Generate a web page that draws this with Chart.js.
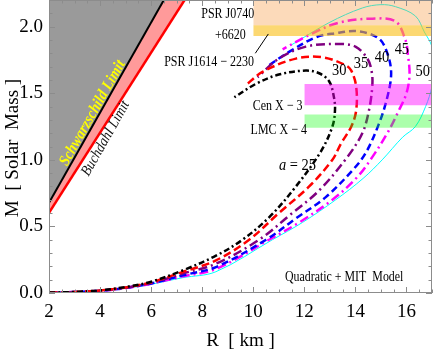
<!DOCTYPE html>
<html>
<head>
<meta charset="utf-8">
<script src="https://cdn.jsdelivr.net/npm/chart.js@4.4.1/dist/chart.umd.min.js"></script>
<style>
  html, body { margin: 0; padding: 0; background: #fff; }
  #wrap { width: 436px; height: 354px; }
</style>
</head>
<body>
<div id="wrap"><canvas id="graficoMR"></canvas></div>
<script>
// axis ticks
const xTicks = [2, 4, 6, 8, 10, 12, 14, 16];
const yTicks = [0.0, 0.5, 1.0, 1.5, 2.0];

// limits (R in km, M in solar masses)
const schwarzR = [2, 7];
const schwarzM = [0.677, 2.37];
const buchdahlR = [2, 8];
const buchdahlM = [0.602, 2.407];

// observed mass bands
const bandNames = ['PSR J0740+6620', 'PSR J1614-2230', 'Cen X-3', 'LMC X-4'];
const bandFrom = [10, 10, 12, 12];
const bandTo = [17, 17, 17, 17];
const bandLow = [2.01, 1.93, 1.41, 1.24];
const bandHigh = [2.2, 2.01, 1.57, 1.34];

// mass-radius curves for a = 25 ... 50
const aValues = [25, 30, 35, 40, 45, 50];
const r25 = [2, 3, 4, 5, 6, 7.24, 8.54, 9.58, 10.63, 11.67, 12.64, 13.1, 13.2, 13.16, 12.97, 12.58, 12.06, 11.0, 10.1, 9.26];
const m25 = [0.003, 0.008, 0.02, 0.045, 0.085, 0.17, 0.28, 0.40, 0.57, 0.80, 1.06, 1.25, 1.37, 1.47, 1.59, 1.65, 1.67, 1.64, 1.57, 1.47];
const r30 = [2, 3, 4, 5, 6, 7.24, 8.54, 9.84, 11.0, 12.19, 13.1, 13.43, 13.84, 14.03, 14.03, 13.84, 13.62, 12.71, 11.67, 10.36, 9.71];
const m30 = [0.003, 0.007, 0.019, 0.042, 0.08, 0.158, 0.245, 0.40, 0.60, 0.80, 1.0, 1.12, 1.25, 1.37, 1.55, 1.67, 1.71, 1.77, 1.76, 1.66, 1.56];
const r35 = [2, 3, 4, 5, 6, 7.24, 8.54, 10.23, 11.4, 12.58, 13.68, 14.27, 14.53, 14.66, 14.64, 14.47, 14.0, 13.36, 12.06, 11.0, 10.17];
const m35 = [0.003, 0.007, 0.018, 0.04, 0.076, 0.146, 0.22, 0.40, 0.58, 0.77, 1.02, 1.2, 1.37, 1.55, 1.66, 1.76, 1.85, 1.87, 1.85, 1.76, 1.62];
const r40 = [2, 3, 4, 5, 6, 7.24, 8.54, 10.5, 11.67, 12.84, 13.88, 14.4, 14.92, 15.25, 15.4, 15.25, 14.92, 14.1, 13.2, 12.45, 11.4, 10.62];
const m40 = [0.003, 0.007, 0.017, 0.038, 0.072, 0.133, 0.195, 0.40, 0.56, 0.72, 0.92, 1.05, 1.27, 1.47, 1.65, 1.80, 1.91, 1.965, 1.95, 1.92, 1.81, 1.71];
const r45 = [2, 3, 4, 5, 6, 7.24, 8.54, 10.62, 11.8, 13.1, 14.07, 14.66, 15.25, 15.7, 16.0, 16.12, 16.05, 15.96, 15.57, 14.66, 13.36, 12.32, 11.15];
const m45 = [0.003, 0.007, 0.017, 0.037, 0.07, 0.125, 0.18, 0.40, 0.53, 0.70, 0.87, 1.02, 1.2, 1.37, 1.50, 1.64, 1.80, 1.90, 2.04, 2.06, 2.03, 1.95, 1.83];
const r50 = [2, 3, 4, 5, 6, 7.24, 8.54, 10.75, 11.93, 13.23, 14.3, 15.05, 15.85, 16.35, 16.75, 17.0, 17.1, 17.0, 16.7, 16.35, 15.57, 15.0, 14.27, 12.97, 11.47];
const m50 = [0.003, 0.006, 0.016, 0.035, 0.066, 0.115, 0.16, 0.40, 0.53, 0.70, 0.86, 1.0, 1.17, 1.25, 1.40, 1.55, 1.70, 1.85, 1.96, 2.08, 2.15, 2.165, 2.14, 2.03, 1.86];

const curveR = [r25, r30, r35, r40, r45, r50];
const curveM = [m25, m30, m35, m40, m45, m50];
const curveColors = ['#000000', '#ff0000', '#800080', '#0000ff', '#ff00ff', '#00ffff'];
const curveDash = [[6, 3, 2, 3], [8, 4], [9, 4, 2, 4], [7, 4], [9, 4, 2, 4], []];
const curveWidth = [2.5, 2.5, 2.5, 2.5, 2.5, 1];
const bandColors = ['rgba(245,140,40,0.32)', 'rgba(250,190,20,0.6)', 'rgba(255,0,255,0.45)', 'rgba(0,255,0,0.33)'];

const toPoints = (rs, ms) => rs.map((r, i) => ({ x: r, y: ms[i] }));

const datasets = [];

bandNames.forEach((name, i) => {
    datasets.push({
        label: name,
        data: toPoints([bandFrom[i], bandTo[i]], [bandHigh[i], bandHigh[i]]),
        showLine: true,
        borderWidth: 0,
        borderColor: 'rgba(0,0,0,0)',
        backgroundColor: bandColors[i],
        fill: { value: bandLow[i] },
        pointRadius: 0,
        tension: 0
    });
});

aValues.forEach((a, i) => {
    datasets.push({
        label: 'a = ' + a,
        data: toPoints(curveR[i], curveM[i]),
        showLine: true,
        borderColor: curveColors[i],
        borderWidth: curveWidth[i],
        borderDash: curveDash[i],
        pointRadius: 0,
        fill: false,
        tension: 0.35
    });
});

datasets.push({
    label: 'Schwarzschild Limit',
    data: toPoints(schwarzR, schwarzM),
    showLine: true,
    borderColor: '#000000',
    borderWidth: 2,
    backgroundColor: '#9a9a9a',
    fill: 'end',
    pointRadius: 0,
    tension: 0
});
datasets.push({
    label: 'Buchdahl Limit',
    data: toPoints(buchdahlR, buchdahlM),
    showLine: true,
    borderColor: '#ff0000',
    borderWidth: 2.5,
    backgroundColor: '#ff9a9a',
    fill: 'end',
    pointRadius: 0,
    tension: 0
});

const SERIF = '"Liberation Serif", "Times New Roman", serif';

function texto(ctx, txt, px, py, font, color, rot, sx) {
    ctx.save();
    ctx.translate(px, py);
    if (rot) ctx.rotate(rot);
    ctx.scale(sx || 1, 1);
    ctx.font = font;
    ctx.fillStyle = color || '#000';
    ctx.textAlign = 'center';
    ctx.textBaseline = 'middle';
    ctx.fillText(txt, 0, 0);
    ctx.restore();
}

// frame with inward ticks
const molduraPlugin = {
    id: 'moldura',
    afterDraw(chart) {
        const { ctx, chartArea: a, scales: { x, y } } = chart;
        ctx.save();
        ctx.strokeStyle = '#8c8c8c';
        ctx.lineWidth = 1;
        ctx.strokeRect(a.left + 0.5, a.top + 0.5, a.right - a.left - 1, a.bottom - a.top - 1);
        ctx.beginPath();
        for (let i = 0; i <= 30; i++) {
            const v = 2 + i * 0.5;
            const px = Math.round(x.getPixelForValue(v)) + 0.5;
            const len = i % 4 === 0 ? 6 : 3.5;
            ctx.moveTo(px, a.bottom); ctx.lineTo(px, a.bottom - len);
            ctx.moveTo(px, a.top); ctx.lineTo(px, a.top + len);
        }
        for (let i = 0; i <= 22; i++) {
            const py = Math.round(y.getPixelForValue(i / 10)) + 0.5;
            const len = i % 5 === 0 ? 6 : 3.5;
            ctx.moveTo(a.left, py); ctx.lineTo(a.left + len, py);
            ctx.moveTo(a.right, py); ctx.lineTo(a.right - len, py);
        }
        ctx.stroke();
        ctx.restore();
    }
};

// text annotations
const rotulosPlugin = {
    id: 'rotulos',
    afterDatasetsDraw(chart) {
        const { ctx, chartArea: a, scales: { x, y } } = chart;
        const X = v => x.getPixelForValue(v);
        const Y = v => y.getPixelForValue(v);
        const f14 = '15px ' + SERIF;

        texto(ctx, 'PSR J0740', X(9.0), Y(2.095), f14, '#000', 0, 0.8);
        texto(ctx, '+6620', X(9.1), Y(1.94), f14, '#000', 0, 0.8);
        texto(ctx, 'PSR J1614 \u2212 2230', X(8.27), Y(1.735), f14, '#000', 0, 0.8);
        texto(ctx, 'Cen X \u2212 3', X(10.95), Y(1.405), f14, '#000', 0, 0.8);
        texto(ctx, 'LMC X \u2212 4', X(11.0), Y(1.22), f14, '#000', 0, 0.8);

        ctx.save();
        ctx.strokeStyle = '#000';
        ctx.lineWidth = 1;
        ctx.beginPath();
        ctx.moveTo(X(10.59), Y(1.945));
        ctx.lineTo(X(10.08), Y(1.80));
        ctx.stroke();
        ctx.restore();

        const labelsA = ['30', '35', '40', '45', '50'];
        const labR = [13.37, 14.22, 15.04, 15.82, 16.64];
        const labM = [1.667, 1.72, 1.77, 1.825, 1.66];
        labelsA.forEach((t, i) => texto(ctx, t, X(labR[i]), Y(labM[i]), '17px ' + SERIF, '#000', 0, 0.85));

        // a = 25
        ctx.save();
        ctx.translate(X(11.73), Y(0.96));
        ctx.scale(0.85, 1);
        ctx.textBaseline = 'middle';
        ctx.textAlign = 'left';
        ctx.font = 'italic 17px ' + SERIF;
        const wa = ctx.measureText('a').width;
        ctx.font = '17px ' + SERIF;
        const wr = ctx.measureText(' = 25').width;
        const x0 = -(wa + wr) / 2;
        ctx.font = 'italic 17px ' + SERIF;
        ctx.fillText('a', x0, 0);
        ctx.font = '17px ' + SERIF;
        ctx.fillText(' = 25', x0 + wa, 0);
        ctx.restore();

        texto(ctx, 'Quadratic + MIT  Model', X(13.56), Y(0.118), '14px ' + SERIF, '#000', 0, 0.85);

        const ang = -Math.atan2(Y(schwarzM[0]) - Y(schwarzM[1]), X(schwarzR[1]) - X(schwarzR[0]));
        texto(ctx, 'Schwarzschild Limit', X(3.71), Y(1.35), 'italic bold 16px ' + SERIF, '#ffff00', ang, 0.88);
        texto(ctx, 'Buchdahl Limit', X(4.22), Y(1.16), 'italic 15px ' + SERIF, '#111', ang, 0.9);

        // axis titles
        texto(ctx, 'R  [ km ]', (a.left + a.right) / 2, 341, '19px ' + SERIF, '#000');
        texto(ctx, 'M  [ Solar  Mass ]', 13, 148, '19px ' + SERIF, '#000', -Math.PI / 2);
    }
};

new Chart(document.getElementById('graficoMR'), {
    type: 'scatter',
    data: { datasets },
    options: {
        responsive: true,
        maintainAspectRatio: false,
        animation: false,
        layout: { padding: { top: 0, right: 4, left: 0, bottom: 0 } },
        plugins: {
            legend: { display: false },
            tooltip: { enabled: false }
        },
        scales: {
            x: {
                type: 'linear',
                min: 2,
                max: 17,
                afterBuildTicks: s => { s.ticks = xTicks.map(v => ({ value: v })); },
                afterFit: s => { s.height = 61; s.paddingLeft = 0; s.paddingRight = 0; },
                grid: { display: false, drawTicks: false },
                border: { display: false },
                ticks: { padding: 8, color: '#000', font: { family: SERIF, size: 19 } }
            },
            y: {
                type: 'linear',
                min: 0,
                max: 2.2,
                afterBuildTicks: s => { s.ticks = yTicks.map(v => ({ value: v })); },
                afterFit: s => { s.width = 49; s.paddingTop = 0; s.paddingBottom = 0; },
                grid: { display: false, drawTicks: false },
                border: { display: false },
                ticks: { padding: 6, color: '#000', font: { family: SERIF, size: 19 }, callback: v => v.toFixed(1) }
            }
        }
    },
    plugins: [molduraPlugin, rotulosPlugin]
});
</script>
</body>
</html>
